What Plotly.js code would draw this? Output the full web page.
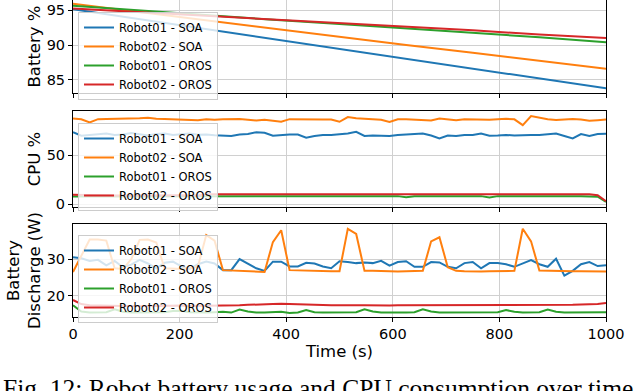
<!DOCTYPE html>
<html>
<head>
<meta charset="utf-8">
<script src="https://cdn.plot.ly/plotly-3.0.1.min.js"></script>
<style>
  html, body { margin: 0; padding: 0; background: #fff; }
  #chart { width: 640px; height: 391px; }
</style>
</head>
<body>
<div id="chart"></div>
<script>
// robot battery / cpu / discharge over time, three stacked panels

var names = ['Robot01 - SOA', 'Robot02 - SOA', 'Robot01 - OROS', 'Robot02 - OROS'];
var colors = ['#1f77b4', '#ff7f0e', '#2ca02c', '#d62728'];

// battery level (%), coarse samples
var tBat = [0, 125, 250, 375, 500, 625, 750, 875, 1000];
var batSoa1  = [95.1, 93.7, 92.3, 90.9, 89.5, 88.1, 86.7, 85.2, 83.8];
var batSoa2  = [95.9, 94.7, 93.5, 92.3, 91.1, 90.0, 88.9, 87.7, 86.6];
var batOros1 = [95.6, 94.9, 94.3, 93.6, 93.0, 92.4, 91.7, 91.1, 90.4];
var batOros2 = [95.2, 94.7, 94.2, 93.7, 93.2, 92.6, 92.1, 91.5, 91.0];

// sample times for cpu and discharge (s)
var t = [0, 15.6, 31.3, 46.9, 62.5, 78.1, 93.8, 109.4, 125, 140.6, 156.3, 171.9, 187.5, 203.1, 218.8, 234.4,
  250, 265.6, 281.3, 296.9, 312.5, 328.1, 343.8, 359.4, 375, 390.6, 406.3, 421.9, 437.5, 453.1, 468.8, 484.4,
  500, 515.6, 531.3, 546.9, 562.5, 578.1, 593.8, 609.4, 625, 640.6, 656.3, 671.9, 687.5, 703.1, 718.8, 734.4,
  750, 765.6, 781.3, 796.9, 812.5, 828.1, 843.8, 859.4, 875, 890.6, 906.3, 921.9, 937.5, 953.1, 968.8, 984.4, 1000];

// cpu %
var cpuSoa1 = [73.3, 69.8, 70.5, 71.5, 72.0, 70.5, 71.0, 72.5, 71.0, 70.0, 71.5, 72.0, 70.5, 71.0, 72.0, 70.7,
  71.0, 70.2, 70.0, 69.6, 71.0, 71.5, 73.3, 72.8, 69.8, 70.5, 71.0, 71.0, 67.8, 69.5, 70.5, 70.5,
  71.0, 72.0, 73.8, 69.5, 70.0, 70.0, 69.5, 70.5, 71.0, 71.5, 72.1, 70.0, 67.0, 70.0, 69.5, 70.5,
  70.5, 72.0, 69.8, 70.0, 70.5, 70.0, 70.5, 70.5, 70.5, 71.0, 72.0, 69.5, 67.0, 71.5, 69.5, 71.5, 71.8];
var cpuSoa2 = [87.4, 86.5, 83.4, 86.7, 86.8, 87.0, 86.5, 87.0, 87.5, 88.0, 87.0, 86.8, 86.5, 86.5, 86.0, 85.5,
  86.5, 86.0, 86.5, 86.7, 86.8, 86.0, 85.3, 86.0, 85.0, 84.1, 86.7, 86.5, 86.5, 86.0, 86.2, 86.4,
  84.0, 88.8, 87.5, 87.0, 86.5, 86.0, 83.7, 86.5, 86.5, 86.0, 86.0, 85.3, 87.4, 86.8, 85.5, 86.5,
  86.2, 86.5, 86.0, 86.5, 87.0, 86.5, 80.6, 89.8, 88.0, 86.5, 85.8, 86.0, 86.8, 86.2, 85.0, 85.6, 86.2];
var cpuOros1 = [7.8, 7.8, 7.7, 7.8, 7.8, 7.7, 7.8, 7.8, 7.7, 7.8, 7.8, 7.8, 7.7, 7.8, 7.8, 7.7,
  8.0, 8.1, 8.0, 8.1, 8.0, 8.1, 8.1, 8.0, 8.1, 8.0, 8.1, 8.0, 8.1, 8.1, 8.0, 8.1,
  8.0, 8.1, 8.1, 8.0, 8.1, 8.0, 8.1, 8.1, 7.0, 8.0, 8.1, 8.0, 8.1, 8.1, 8.0, 8.1,
  8.0, 8.1, 6.8, 8.1, 8.0, 8.1, 8.0, 8.1, 8.1, 8.0, 8.1, 8.0, 8.1, 8.0, 8.1, 7.5, 2.3];
var cpuOros2 = [9.5, 9.3, 8.8, 8.8, 8.9, 8.8, 8.8, 8.9, 8.8, 8.8, 8.9, 8.8, 8.8, 8.9, 8.8, 8.8,
  9.9, 9.9, 10.0, 9.9, 9.9, 9.6, 9.9, 10.0, 9.9, 9.9, 10.0, 9.9, 9.9, 9.9, 10.0, 9.9,
  9.9, 10.0, 9.9, 9.9, 9.6, 9.9, 10.0, 9.9, 9.9, 9.9, 10.0, 9.9, 9.9, 9.9, 10.0, 9.9,
  9.9, 10.0, 9.9, 9.9, 9.9, 10.0, 9.9, 9.9, 9.9, 10.0, 9.9, 9.9, 9.9, 10.0, 9.9, 9.0, 3.0];

// battery discharge (W)
var disSoa1 = [30.5, 30.2, 29.5, 29.8, 28.3, 29.5, 27.8, 28.5, 29.8, 28.8, 27.5, 29.0, 29.3, 28.0, 27.3, 28.6,
  29.3, 28.8, 27.0, 27.0, 30.0, 28.8, 27.5, 26.8, 29.3, 29.3, 28.0, 28.0, 29.0, 28.8, 28.0, 27.5,
  29.4, 29.2, 28.9, 29.1, 28.9, 29.5, 28.2, 29.2, 29.4, 27.9, 27.9, 29.2, 29.1, 27.9, 27.5, 28.9,
  29.2, 27.5, 28.9, 28.9, 28.6, 27.9, 28.9, 29.7, 28.6, 27.9, 30.1, 25.5, 26.8, 28.6, 29.2, 28.1, 28.3];
var disSoa2 = [26.5, 31.0, 35.3, 35.3, 35.0, 27.5, 27.3, 30.0, 35.2, 35.3, 34.5, 27.5, 27.3, 27.3, 27.5, 28.0,
  36.5, 35.0, 27.0, 26.9, 26.8, 26.7, 26.7, 26.5, 34.6, 37.8, 27.0, 26.9, 26.9, 26.8, 26.8, 26.7,
  26.7, 38.2, 36.8, 26.8, 26.8, 26.7, 26.6, 26.6, 26.7, 26.7, 26.8, 34.8, 35.9, 27.8, 26.8, 26.7,
  26.6, 26.6, 26.7, 26.7, 26.8, 26.8, 38.2, 34.8, 26.9, 26.8, 26.8, 26.7, 26.7, 26.7, 26.6, 26.6, 26.6];
var disOros1 = [17.5, 15.8, 15.5, 15.5, 15.6, 16.4, 15.7, 15.5, 15.5, 15.4, 15.4, 15.6, 15.9, 16.0, 15.6, 15.5,
  15.5, 15.6, 15.7, 15.5, 16.3, 15.8, 15.5, 15.5, 15.6, 15.7, 15.4, 15.5, 16.2, 15.6, 15.5, 15.5,
  15.5, 15.5, 15.6, 16.4, 15.8, 15.5, 15.4, 15.5, 15.5, 15.6, 16.4, 15.8, 15.5, 15.5, 15.6, 15.5,
  15.5, 15.6, 15.5, 15.6, 16.2, 15.7, 15.5, 15.5, 15.6, 16.3, 15.7, 15.5, 15.5, 15.6, 15.5, 15.5, 15.6];
var disOros2 = [18.9, 17.8, 17.5, 17.4, 17.3, 17.4, 17.3, 17.3, 17.4, 17.3, 17.3, 17.4, 17.3, 17.4, 17.3, 17.3,
  17.4, 17.3, 17.4, 17.4, 17.5, 17.6, 17.6, 17.7, 17.8, 17.9, 17.8, 17.9, 17.7, 17.6, 17.5, 17.5,
  17.5, 17.4, 17.5, 17.5, 17.4, 17.5, 17.4, 17.5, 17.5, 17.4, 17.5, 17.6, 17.5, 17.4, 17.5, 17.4,
  17.5, 17.5, 17.4, 17.5, 17.5, 17.6, 17.5, 17.5, 17.6, 17.5, 17.5, 17.6, 17.6, 17.7, 17.7, 17.8, 18.1];

var panels = [
  {x: tBat, ys: [batSoa1, batSoa2, batOros1, batOros2], xa: 'x', ya: 'y', leg: 'legend'},
  {x: t, ys: [cpuSoa1, cpuSoa2, cpuOros1, cpuOros2], xa: 'x2', ya: 'y2', leg: 'legend2'},
  {x: t, ys: [disSoa1, disSoa2, disOros1, disOros2], xa: 'x3', ya: 'y3', leg: 'legend3'}
];

var data = [];
panels.forEach(function(p){
  p.ys.forEach(function(y, i){
    data.push({
      x: p.x, y: y, type: 'scatter', mode: 'lines',
      name: names[i], xaxis: p.xa, yaxis: p.ya, legend: p.leg,
      line: {color: colors[i], width: 2},
      hoverinfo: 'skip'
    });
  });
});

var FONT = 'DejaVu Sans, sans-serif';
var X0 = 73/640, X1 = 606/640;
function py(px){ return 1 - px/391; }

function xax(dom, labels, mirror){
  return {
    domain: [X0, X1], anchor: dom, range: [0, 1000],
    tickvals: [0, 200, 400, 600, 800, 1000],
    showticklabels: labels, ticks: 'outside', ticklen: 4, tickcolor: '#000',
    showgrid: true, gridcolor: '#d0d0d0', gridwidth: 1,
    showline: true, linecolor: '#000', linewidth: 1, mirror: mirror,
    zeroline: false, tickfont: {family: FONT, size: 14.5, color: '#000'}
  };
}
function yax(anchor, dom, range, ticks, title){
  return {
    domain: dom, anchor: anchor, range: range, tickvals: ticks,
    ticks: 'outside', ticklen: 4, tickcolor: '#000',
    showgrid: true, gridcolor: '#d0d0d0', gridwidth: 1,
    showline: true, linecolor: '#000', linewidth: 1, mirror: true,
    zeroline: false, tickfont: {family: FONT, size: 14.5, color: '#000'},
    title: {text: title, font: {family: FONT, size: 16.5, color: '#000'}, standoff: 1}
  };
}
function leg(top){
  return {
    x: 78/640, xanchor: 'left', y: py(top), yanchor: 'top',
    bgcolor: 'rgba(255,255,255,0.8)', bordercolor: '#cccccc', borderwidth: 1,
    font: {family: FONT, size: 11.5, color: '#000'}
  };
}

var xa3 = xax('y3', true, true);
xa3.title = {text: 'Time (s)', font: {family: FONT, size: 16.5, color: '#000'}, standoff: 4};

var layout = {
  width: 640, height: 391,
  margin: {l: 0, r: 0, t: 0, b: 0},
  paper_bgcolor: '#fff', plot_bgcolor: '#fff',
  showlegend: true,
  xaxis: xax('y', false, false),
  xaxis2: xax('y2', false, true),
  xaxis3: xa3,
  yaxis: yax('x', [py(93), 1], [83.14, 96.43], [85, 90, 95], 'Battery %'),
  yaxis2: yax('x2', [py(207), py(111)], [-3, 95], [0, 50], 'CPU %'),
  yaxis3: yax('x3', [py(317), py(224)], [14.3, 39.5], [20, 30], 'Battery<br>Discharge (W)'),
  legend: leg(12),
  legend2: leg(123),
  legend3: leg(235),
  annotations: [{
    text: 'Fig. 12: Robot battery usage and CPU consumption over time',
    xref: 'paper', yref: 'paper', x: 318/640, y: py(372), xanchor: 'center', yanchor: 'top',
    showarrow: false, font: {family: 'Liberation Serif, serif', size: 25.5, color: '#000'}
  }]
};

Plotly.newPlot('chart', data, layout, {displayModeBar: false, staticPlot: true});
</script>
</body>
</html>
